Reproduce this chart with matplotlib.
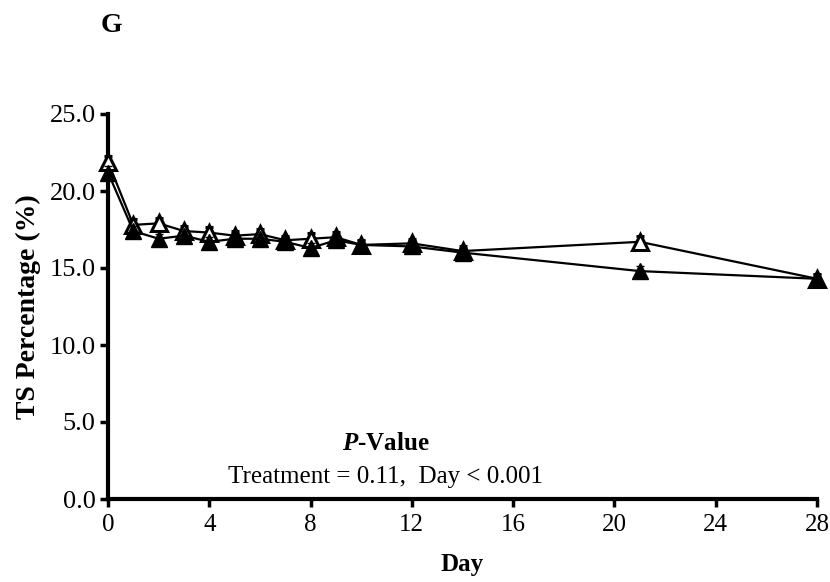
import numpy as np
import matplotlib.pyplot as plt

plt.rcParams['font.family'] = ['Liberation Serif', 'DejaVu Serif']
plt.rcParams['mathtext.fontset'] = 'custom'
plt.rcParams['mathtext.it'] = 'Liberation Serif:italic:bold'
plt.rcParams['mathtext.rm'] = 'Liberation Serif:bold'

days = [0, 1, 2, 3, 4, 5, 6, 7, 8, 9, 10, 12, 14, 21, 28]
ts_open = [21.9, 17.8, 17.9, 17.4, 17.3, 17.1, 17.2, 16.8, 16.9, 17.0, 16.5, 16.6, 16.1, 16.7, 14.3]
ts_filled = [21.2, 17.4, 16.9, 17.1, 16.7, 16.9, 16.9, 16.7, 16.3, 16.8, 16.5, 16.4, 16.0, 14.8, 14.3]
se_open = [0.4, 0.35, 0.35, 0.35, 0.35, 0.3, 0.35, 0.3, 0.35, 0.35, 0.3, 0.3, 0.3, 0.35, 0.3]
se_filled = [0.4, 0.3, 0.3, 0.3, 0.3, 0.3, 0.3, 0.3, 0.3, 0.3, 0.3, 0.3, 0.3, 0.3, 0.3]

fig = plt.figure(figsize=(8.3, 5.82), dpi=100)
ax = fig.add_axes([108/830, 83/582, 709/830, 385/582])

# open triangles first, filled ones drawn over them
eb1 = ax.errorbar(days, ts_open, yerr=se_open, color='black', lw=1.6, marker='^',
                  markersize=11, mfc='white', mec='black', mew=2.2, capsize=3,
                  elinewidth=1.2, zorder=3)
eb2 = ax.errorbar(days, ts_filled, yerr=se_filled, color='black', lw=1.6, marker='^',
                  markersize=11, mfc='black', mec='black', capsize=3,
                  elinewidth=1.2, zorder=4)
for eb in (eb1, eb2):
    for art in eb.get_children():
        art.set_clip_on(False)

ax.set_xlim(0, 28)
ax.set_ylim(0, 25)
ax.set_xticks(np.arange(0, 29, 4))
ax.set_yticks(np.arange(0, 25.1, 5))
ax.set_yticklabels([f'{v:.1f}' for v in np.arange(0, 25.1, 5)])
ax.tick_params(width=2.5, length=6, direction='out')
ax.tick_params(axis='x', labelsize=18, pad=5)
ax.tick_params(axis='y', labelsize=19, pad=3)
ax.spines['top'].set_visible(False)
ax.spines['right'].set_visible(False)
ax.spines['left'].set_linewidth(3)
ax.spines['bottom'].set_linewidth(3)

ax.set_xlabel('Day', fontsize=18, fontweight='bold', labelpad=12)
ax.set_ylabel('TS Percentage (%)', fontsize=20, fontweight='bold', labelpad=6)

ax.text(10.95, 3.2, r'$\mathit{P}$-Value', fontsize=18, fontweight='bold', ha='center', va='baseline')
ax.text(10.95, 1.05, 'Treatment = 0.11,  Day < 0.001', fontsize=18, ha='center', va='baseline')

fig.text(101/830, 1 - 25/582, 'G', fontsize=20, fontweight='bold', va='center')

fig.savefig('out.png', dpi=100)
